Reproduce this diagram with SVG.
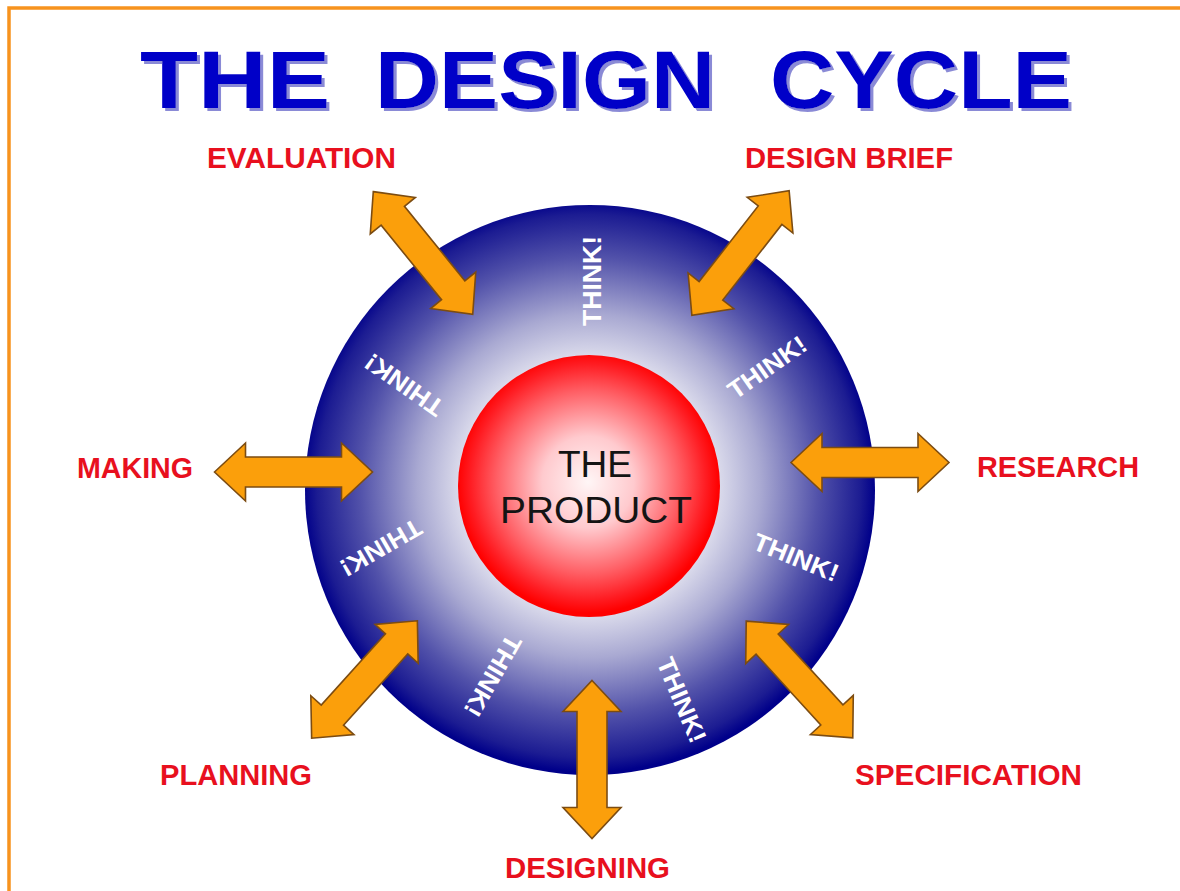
<svg xmlns="http://www.w3.org/2000/svg" width="1180" height="891" viewBox="0 0 1180 891">
  <defs>
    <radialGradient id="ringFill" gradientUnits="userSpaceOnUse" cx="589" cy="486" r="286">
      <stop offset="0" stop-color="#ffffff"/>
      <stop offset="0.45" stop-color="#dcdcec"/>
      <stop offset="0.6" stop-color="#a9a9d2"/>
      <stop offset="0.8" stop-color="#5252aa"/>
      <stop offset="0.95" stop-color="#1c1c92"/>
      <stop offset="1" stop-color="#00008a"/>
    </radialGradient>
    <radialGradient id="coreFill" gradientUnits="userSpaceOnUse" cx="588" cy="482" r="131">
      <stop offset="0" stop-color="#fff6f6"/>
      <stop offset="0.35" stop-color="#ffcace"/>
      <stop offset="0.7" stop-color="#ff5e64"/>
      <stop offset="0.9" stop-color="#ff1c22"/>
      <stop offset="1" stop-color="#ff0000"/>
    </radialGradient>
    <filter id="titleShadow" x="-5%" y="-20%" width="110%" height="140%">
      <feDropShadow dx="3" dy="3" stdDeviation="0.6" flood-color="#8a8ad6" flood-opacity="1"/>
    </filter>
    <polygon id="dblArrow" points="-79,0 -48,-29 -48,-15 48,-15 48,-29 79,0 48,29 48,15 -48,15 -48,29"/>
  </defs>
  <style>
    .title { font-family: "Liberation Sans", Arial, sans-serif; font-weight: bold; font-size: 82px; fill: #0000c8; }
    .label { font-family: "Liberation Sans", Arial, sans-serif; font-weight: bold; font-size: 29px; fill: #e8101e; }
    .think { font-family: "Liberation Sans", Arial, sans-serif; font-weight: bold; font-size: 25px; fill: #ffffff; text-anchor: middle; }
    .core-text { font-family: "Liberation Sans", Arial, sans-serif; font-size: 37px; fill: #141414; text-anchor: middle; }
    .arrow { fill: #fb9f0b; stroke: #7c4c12; stroke-width: 1.6; stroke-linejoin: miter; }
  </style>

  <rect width="1180" height="891" fill="#ffffff"/>
  <!-- frame: top and left edges only -->
  <path d="M9,891 V8 H1180" fill="none" stroke="#f7931e" stroke-width="3.5"/>

  <!-- heading with soft offset shadow -->
  <g id="title" filter="url(#titleShadow)">
    <text class="title" x="140" y="108" textLength="190" lengthAdjust="spacingAndGlyphs">THE</text>
    <text class="title" x="375" y="108" textLength="340" lengthAdjust="spacingAndGlyphs">DESIGN</text>
    <text class="title" x="770" y="108" textLength="302" lengthAdjust="spacingAndGlyphs">CYCLE</text>
  </g>

  <!-- central sphere: blue THINK! ring around the red product core -->
  <g id="cycle-ring">
    <circle cx="590" cy="490" r="285" fill="url(#ringFill)"/>
    <g id="think-labels">
      <text class="think" transform="translate(592,281) rotate(-90)" x="0" y="9" textLength="90" lengthAdjust="spacingAndGlyphs">THINK!</text>
      <text class="think" transform="translate(767,367) rotate(-35)" x="0" y="9" textLength="90" lengthAdjust="spacingAndGlyphs">THINK!</text>
      <text class="think" transform="translate(796,557) rotate(22)" x="0" y="9" textLength="90" lengthAdjust="spacingAndGlyphs">THINK!</text>
      <text class="think" transform="translate(682,700) rotate(67)" x="0" y="9" textLength="90" lengthAdjust="spacingAndGlyphs">THINK!</text>
      <text class="think" transform="translate(493,676) rotate(120)" x="0" y="9" textLength="90" lengthAdjust="spacingAndGlyphs">THINK!</text>
      <text class="think" transform="translate(381,548) rotate(150)" x="0" y="9" textLength="90" lengthAdjust="spacingAndGlyphs">THINK!</text>
      <text class="think" transform="translate(404,385) rotate(-145)" x="0" y="9" textLength="90" lengthAdjust="spacingAndGlyphs">THINK!</text>
    </g>
  </g>

  <g id="the-product">
    <circle cx="589" cy="486" r="131" fill="url(#coreFill)"/>
    <text class="core-text" x="595" y="477">THE</text>
    <text class="core-text" x="596" y="523" textLength="192" lengthAdjust="spacingAndGlyphs">PRODUCT</text>
  </g>

  <!-- two-way links between the product and each stage -->
  <g id="connectors">
    <use href="#dblArrow" class="arrow" transform="translate(740.5,253) rotate(-52)"/>
    <use href="#dblArrow" class="arrow" transform="translate(870,462.5)"/>
    <use href="#dblArrow" class="arrow" transform="translate(799.5,679.5) rotate(47.6)"/>
    <use href="#dblArrow" class="arrow" transform="translate(592,759.5) rotate(90)"/>
    <use href="#dblArrow" class="arrow" transform="translate(364.5,679.5) rotate(-48)"/>
    <use href="#dblArrow" class="arrow" transform="translate(293.5,472)"/>
    <use href="#dblArrow" class="arrow" transform="translate(423,253) rotate(51)"/>
  </g>

  <!-- stage labels -->
  <g id="design-brief"><text class="label" x="745" y="168" textLength="208" lengthAdjust="spacingAndGlyphs">DESIGN BRIEF</text></g>
  <g id="research"><text class="label" x="977" y="477" textLength="162" lengthAdjust="spacingAndGlyphs">RESEARCH</text></g>
  <g id="specification"><text class="label" x="855" y="785" textLength="227" lengthAdjust="spacingAndGlyphs">SPECIFICATION</text></g>
  <g id="designing"><text class="label" x="505" y="878" textLength="165" lengthAdjust="spacingAndGlyphs">DESIGNING</text></g>
  <g id="planning"><text class="label" x="160" y="785" textLength="152" lengthAdjust="spacingAndGlyphs">PLANNING</text></g>
  <g id="making"><text class="label" x="77" y="478" textLength="116" lengthAdjust="spacingAndGlyphs">MAKING</text></g>
  <g id="evaluation"><text class="label" x="207" y="168" textLength="189" lengthAdjust="spacingAndGlyphs">EVALUATION</text></g>
</svg>
